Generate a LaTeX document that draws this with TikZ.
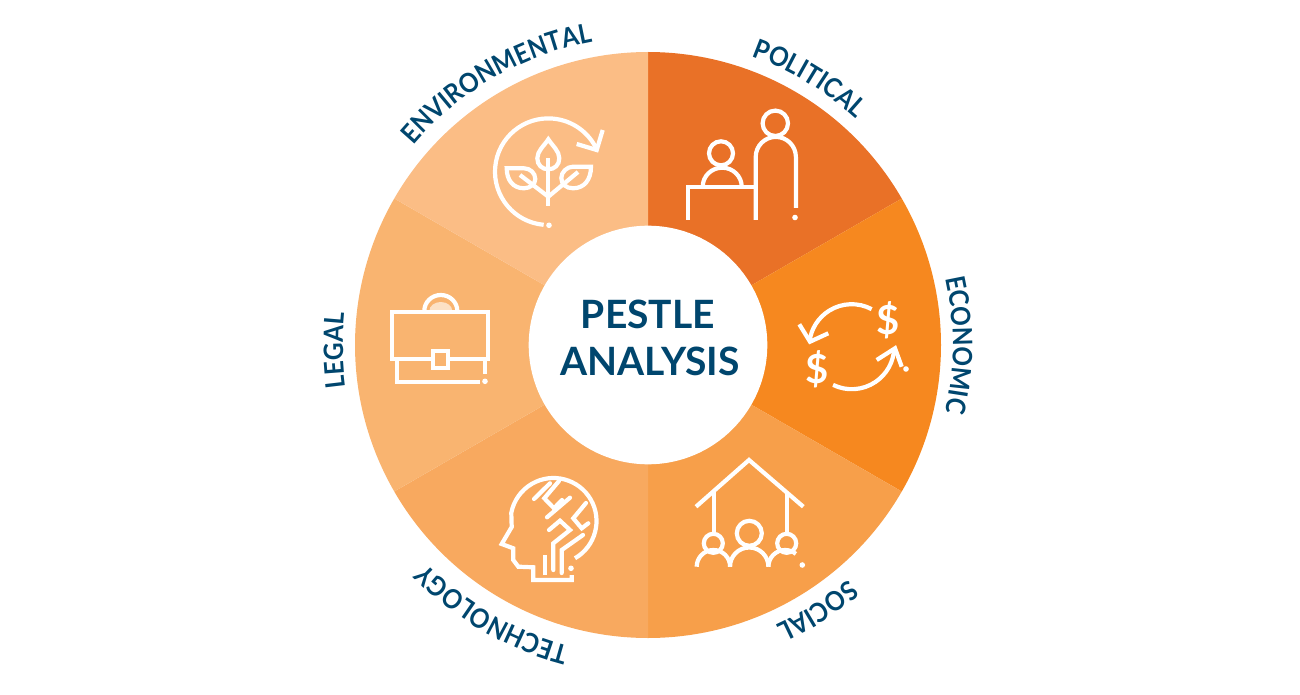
\documentclass[tikz,border=0pt]{standalone}
\usepackage{fontspec}
\usetikzlibrary{decorations.text}
\setmainfont{Lato}
\newfontfamily\labelfont[BoldFeatures={FakeStretch=0.91}]{Lato}
\definecolor{labelblue}{HTML}{00466E}
\definecolor{politicalc}{HTML}{E97127}
\definecolor{economicc}{HTML}{F6881F}
\definecolor{socialc}{HTML}{F79F4A}
\definecolor{technologyc}{HTML}{F8A95F}
\definecolor{legalc}{HTML}{F9B470}
\definecolor{environmentalc}{HTML}{FBBD85}
\tikzset{
	iconline/.style={draw=white,line width=2.1pt},
	icondot/.style={fill=white},
	titletext/.style={text=labelblue,font=\fontsize{19.5}{22}\bfseries},
	dollartext/.style={text=white,font=\fontsize{20}{22}\bfseries,inner sep=0pt},
	curvelabel/.style={decorate,decoration={text along path,text align=center,text color=labelblue,
		text={|\fontsize{13.4}{16}\labelfont\bfseries|#1}}}
}
\begin{document}
\begin{tikzpicture}[x=0.5pt,y=-0.5pt]
	\useasboundingbox (0,0) rectangle (1300,695);
	\coordinate (O) at (648,345);
	
	\fill[politicalc] (O)--+(-90:293) arc[start angle=-90,end angle=-30,radius=293]--cycle;
	\fill[economicc] (O)--+(-30:293) arc[start angle=-30,end angle=30,radius=293]--cycle;
	\fill[socialc] (O)--+(30:293) arc[start angle=30,end angle=90,radius=293]--cycle;
	\fill[technologyc] (O)--+(90:293) arc[start angle=90,end angle=150,radius=293]--cycle;
	\fill[legalc] (O)--+(150:293) arc[start angle=150,end angle=210,radius=293]--cycle;
	\fill[environmentalc] (O)--+(210:293) arc[start angle=210,end angle=270,radius=293]--cycle;
	\fill[white] (O) circle[radius=119.3];
	
	\node (pestle) at (648,328.3) [anchor=base,titletext,inner sep=0pt] {PESTLE};
	\node (analysis) at (650,375) [anchor=base,titletext,inner sep=0pt] {ANALYSIS};
	
	\path[curvelabel=POLITICAL] (O)+(-98.8:307) arc[start angle=-98.8,end angle=-18.8,radius=307];
	\path[curvelabel=ECONOMIC] (O)+(-40:305) arc[start angle=-40,end angle=40,radius=305];
	\path[curvelabel=SOCIAL] (O)+(17.5:308) arc[start angle=17.5,end angle=97.5,radius=308];
	\path[curvelabel=TECHNOLOGY] (O)+(80:311) arc[start angle=80,end angle=160,radius=311];
	\path[curvelabel=LEGAL] (O)+(139:305) arc[start angle=139,end angle=219,radius=305];
	\path[curvelabel=ENVIRONMENTAL] (O)+(195:308) arc[start angle=195,end angle=285,radius=308];
	
	\draw[iconline] (775.3,123.3) circle[radius=12.7];
	\draw[iconline] (755.7,220)--(755.7,157) arc[start angle=180,end angle=360,radius=20.1]--(795.9,208);
	\fill[icondot] (795,217.5) circle[radius=2.8];
	\draw[iconline] (721,153.3) circle[radius=12];
	\draw[iconline] (702.7,186.7) arc[start angle=180,end angle=360,x radius=19.5,y radius=19];
	\draw[iconline] (688.3,220)--(688.3,186.7)--(755.7,186.7);
	
	\draw[iconline] (851.7,346.7)+(-62:42.5) arc[start angle=-62,end angle=-173,radius=42.5];
	\draw[iconline] (799.3,324.3)--(810,341.7)--(828.3,333.3);
	\draw[iconline] (851.7,346.7)+(116:42.5) arc[start angle=116,end angle=2,radius=42.5];
	\draw[iconline] (876.7,360)--(895,348.3)--(901.7,366.7);
	\fill[icondot] (906,369) circle[radius=2.8];
	\node (dollarup) at (888.3,320) [dollartext] {\$};
	\node (dollardown) at (817.3,369) [dollartext] {\$};
	
	\draw[iconline] (696,506.7)--(749,460)--(803.3,506.7);
	\draw[iconline] (714.3,491.7)--(714.3,533.8);
	\draw[iconline] (787.3,493.3)--(787.3,533.8);
	\draw[iconline] (749.3,533.3) circle[radius=12.5];
	\draw[iconline] (713.3,543.3) circle[radius=9.5];
	\draw[iconline] (786.7,543.3) circle[radius=9.5];
	\draw[iconline] (696.7,566.7) arc[start angle=180,end angle=360,radius=16.7];
	\draw[iconline] (730,566.7) arc[start angle=180,end angle=360,radius=19.2];
	\draw[iconline] (768.4,566.7) arc[start angle=180,end angle=310,radius=16.7];
	\fill[icondot] (802.3,565) circle[radius=2.8];
	
	\draw[iconline] (553.5,521)+(60:43) arc[start angle=60,end angle=-169,radius=43]
		--(511.7,527)--(501.7,544)--(513.3,548.3)--(513.3,560)--(518.3,566.7)--(533.3,567.3)--(533.3,580)--(571.7,580)--(571.7,575);
	\fill[icondot] (571,568.3) circle[radius=2.8];
	\draw[iconline,line cap=round] (534,499)--(550,483.3);
	\draw[iconline,line cap=round] (559,481)--(544.3,498.3)--(554,508.3)--(562,500);
	\draw[iconline,line cap=round] (547,517.3)--(570,497.7);
	\draw[iconline,line cap=round] (586,503)--(573.3,518.3)--(581.7,528.3)--(588.3,523.3);
	\draw[iconline,line cap=round] (549,530)--(560,520.7)--(570,530)--(553.3,543.3)--(553.3,570);
	\draw[iconline,line cap=round] (583,535)--(561.7,550)--(561.7,573);
	\draw[iconline] (545,555)--(545,575);
	
	\draw[iconline] (392.3,311.7) rectangle (488.3,359);
	\draw[iconline] (396.7,360)--(396.7,381.7)--(480,381.7);
	\draw[iconline] (485,360)--(485,374.3);
	\fill[icondot] (485,381.3) circle[radius=2.8];
	\draw[iconline,fill=legalc] (433.3,350.7) rectangle (448.3,368.3);
	\draw[iconline] (424.3,311) arc[start angle=180,end angle=360,x radius=16.5,y radius=16];
	\fill[white,opacity=0.6] (429.3,311) arc[start angle=180,end angle=360,x radius=11.5,y radius=9]--cycle;
	
	\draw[iconline] (548.3,171.7)+(95:53.3) arc[start angle=95,end angle=336,radius=53.3];
	\draw[iconline] (576.7,144)--(596.7,150)--(602.7,130);
	\fill[icondot] (549,225.3) circle[radius=2.8];
	\draw[iconline] (548.3,158.3)--(548.3,206);
	\draw[iconline] (548.3,139.3) .. controls (544,146) and (537.3,151) .. (537.3,158.3) .. controls (537.3,165) and (542,169.3) .. (548.3,169.3) .. controls (554.6,169.3) and (559.3,165) .. (559.3,158.3) .. controls (559.3,151) and (552.6,146) .. cycle;
	\draw[iconline] (506.7,168.3)--(524,168.3) .. controls (530,168.3) and (535.3,173) .. (535.3,179) .. controls (535.3,184) and (530,188.3) .. (524,188.3) .. controls (513,188.3) and (506.7,180) .. cycle;
	\draw[iconline] (591,166.7)--(573,166.7) .. controls (567,166.7) and (561.3,172) .. (561.3,178) .. controls (561.3,184) and (566,188.3) .. (573,188.3) .. controls (584,188.3) and (591,180) .. cycle;
	\draw[iconline] (520,175)--(548.3,196.7)--(578,172);
\end{tikzpicture}
\end{document}
